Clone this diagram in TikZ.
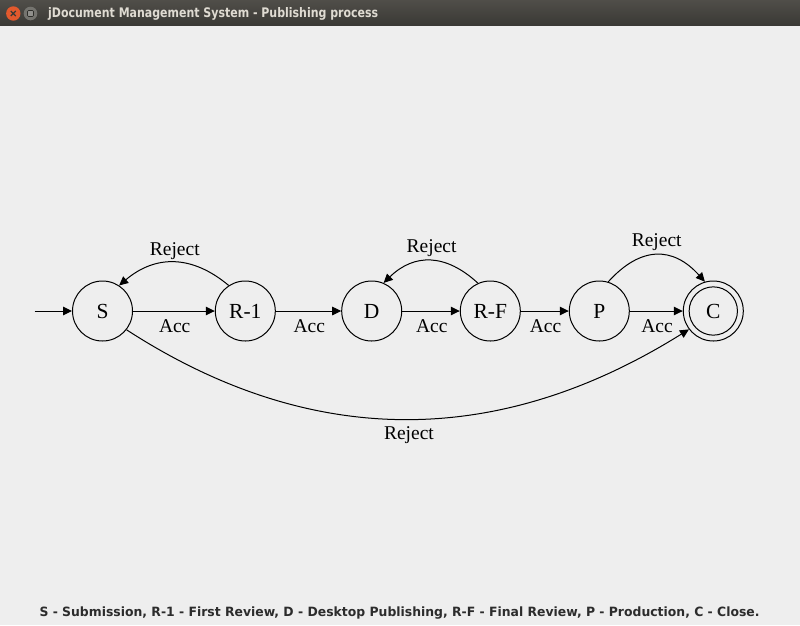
\documentclass[tikz,border=0pt]{standalone}
\usepackage{fontspec}
\setmainfont{Liberation Serif}
\newfontfamily\uifont{DejaVu Sans}
\usetikzlibrary{arrows.meta}
\definecolor{bg}{HTML}{EEEEEE}
\definecolor{bartop}{HTML}{504E49}
\definecolor{barbot}{HTML}{3A3935}
\definecolor{titlefg}{HTML}{DFDBD2}
\definecolor{closebtn}{HTML}{E2592D}
\definecolor{minbtn}{HTML}{75746F}
\definecolor{legendfg}{HTML}{2C2C2C}
\tikzset{
  state/.style={circle, draw, line width=1pt, minimum size=60pt, inner sep=0pt,
    font=\fontsize{21.5}{24}\selectfont},
  edge/.style={line width=1pt, -{Triangle[length=9pt,width=8.5pt]}},
  lab/.style={font=\fontsize{19.5}{22}\selectfont, anchor=base, inner sep=0pt},
}
\begin{document}
\begin{tikzpicture}[x=1pt,y=-1pt]
\useasboundingbox (0,0) rectangle (800,625);
\fill[bg] (0,0) rectangle (800,625);
% title bar
\shade[top color=bartop, bottom color=barbot] (0,0) rectangle (800,25);
\fill[closebtn] (13.3,13.5) circle (7.2);
\draw[barbot, line width=1.2pt] (10.8,11) -- (15.8,16) (15.8,11) -- (10.8,16);
\fill[minbtn] (30.5,13.5) circle (6.8);
\draw[fill=minbtn!80!white, draw=barbot!80!black, line width=0.6pt, rounded corners=1pt] (27.5,10.5) rectangle (33.5,16.5);
\node[anchor=base west, inner sep=0pt, text=titlefg] (title) at (48,17.3)
  {\resizebox{330pt}{10pt}{\uifont\bfseries jDocument Management System - Publishing process}};
% states
\node[state] (S)  at (102.5,311) {S};
\node[state] (R1) at (245.3,311) {R-1};
\node[state] (D)  at (371.7,311) {D};
\node[state] (RF) at (490.3,311) {R-F};
\node[state] (P)  at (599.3,311) {P};
\node[state] (C)  at (713.3,311) {C};
\node[circle, draw, line width=1pt, minimum size=48.3pt, inner sep=0pt] (Cin) at (C) {};
\coordinate (start) at (34.5,311);
% accept edges
\draw[edge] (start) -- (S);
\draw[edge] (S) -- node[lab, yshift=-21.3pt, xshift=0.8pt] {Acc} (R1);
\draw[edge] (R1) -- node[lab, yshift=-21.3pt, xshift=0.8pt] {Acc} (D);
\draw[edge] (D) -- node[lab, yshift=-21.3pt, xshift=0.8pt] {Acc} (RF);
\draw[edge] (RF) -- node[lab, yshift=-21.3pt, xshift=0.8pt] {Acc} (P);
\draw[edge] (P) -- node[lab, yshift=-21.3pt, xshift=0.8pt] {Acc} (C);
% reject edges
\draw[edge] (R1.123) .. controls (191.9,254.7) and (155.5,254.7) .. node[lab, pos=0.5, yshift=7.3pt, xshift=1pt] {Reject} (S.57);
\draw[edge] (RF.114) .. controls (445.6,253.3) and (414.1,253.3) .. node[lab, pos=0.5, yshift=8pt, xshift=1.5pt] {Reject} (D.67);
\draw[edge] (P.73) .. controls (640.6,246) and (672.8,246) .. node[lab, pos=0.5, yshift=8.3pt] {Reject} (C.106);
\draw[edge] (S.-38) .. controls (310.3,448.9) and (497.8,448.9) .. node[lab, pos=0.5, yshift=-20pt, xshift=4pt] {Reject} (C.217);
% legend
\node[anchor=base west, inner sep=0pt, text=legendfg] (legend) at (39.3,616.7)
  {\resizebox{720pt}{9.7pt}{\uifont\bfseries S - Submission, R-1 - First Review, D - Desktop Publishing, R-F - Final Review, P - Production, C - Close.}};
\end{tikzpicture}
\end{document}
